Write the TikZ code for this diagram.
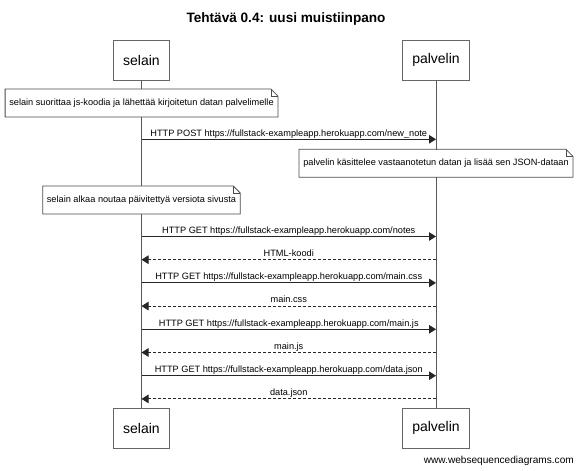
\documentclass[tikz,border=0pt]{standalone}
\usepackage{fontspec}
\setmainfont{Liberation Sans}
\usetikzlibrary{arrows.meta,calc}
\begin{document}
\begin{tikzpicture}[x=1pt,y=-1pt,
  actor/.style={draw=black!60, line width=0.9pt, fill=white, minimum height=40pt, inner xsep=10pt, inner ysep=0pt, font=\fontsize{14}{16}\selectfont},
  notebox/.style={fill=white, minimum height=27.5pt, inner xsep=4pt, inner ysep=0pt, font=\fontsize{9.2}{11}\selectfont, anchor=north},
  noteline/.style={draw=black!70, line width=0.8pt},
  life/.style={draw=black!65, line width=0.9pt},
  msg/.style={draw=black!85, line width=0.9pt, -{Triangle[length=7pt,width=8.5pt]}},
  ret/.style={msg, dash pattern=on 3pt off 2pt},
  lbl/.style={font=\fontsize{9.2}{11}\selectfont, anchor=base, yshift=3.2pt, text=black},
]
\useasboundingbox[fill=white] (0,0) rectangle (579,471);

\node[font=\bfseries\fontsize{13.6}{16}\selectfont, anchor=base] (title) at (286,22.5) {Tehtävä 0.4: uusi muistiinpano};

\node[actor] (selTop) at (141.5,60) {selain};
\node[actor] (palTop) at (436,60) {palvelin};
\node[actor] (selBot) at (141.5,428.3) {selain};
\node[actor] (palBot) at (436,428.3) {palvelin};
\draw[life] (selTop) -- (selBot);
\draw[life] (palTop) -- (palBot);

% notes
\node[notebox] (n1) at (141.5,89) {selain suorittaa js-koodia ja lähettää kirjoitetun datan palvelimelle};
\draw[noteline] (n1.north west) -- ([xshift=-7pt]n1.north east) -- ([yshift=-7pt]n1.north east) -- (n1.south east) -- (n1.south west) -- cycle;
\draw[noteline] ([xshift=-7pt]n1.north east) -- ([xshift=-7pt,yshift=-7pt]n1.north east) -- ([yshift=-7pt]n1.north east);

\node[notebox] (n2) at (436,149.3) {palvelin käsittelee vastaanotetun datan ja lisää sen JSON-dataan};
\draw[noteline] (n2.north west) -- ([xshift=-7pt]n2.north east) -- ([yshift=-7pt]n2.north east) -- (n2.south east) -- (n2.south west) -- cycle;
\draw[noteline] ([xshift=-7pt]n2.north east) -- ([xshift=-7pt,yshift=-7pt]n2.north east) -- ([yshift=-7pt]n2.north east);

\node[notebox] (n3) at (141.5,186) {selain alkaa noutaa päivitettyä versiota sivusta};
\draw[noteline] (n3.north west) -- ([xshift=-7pt]n3.north east) -- ([yshift=-7pt]n3.north east) -- (n3.south east) -- (n3.south west) -- cycle;
\draw[noteline] ([xshift=-7pt]n3.north east) -- ([xshift=-7pt,yshift=-7pt]n3.north east) -- ([yshift=-7pt]n3.north east);

% messages
\draw[msg] (selTop |- 0,139.3) -- node[lbl] {HTTP POST https://fullstack-exampleapp.herokuapp.com/new\_note} (palTop |- 0,139.3);
\draw[msg] (selTop |- 0,236.5) -- node[lbl] {HTTP GET https://fullstack-exampleapp.herokuapp.com/notes} (palTop |- 0,236.5);
\draw[ret] (palTop |- 0,259.7) -- node[lbl] {HTML-koodi} (selTop |- 0,259.7);
\draw[msg] (selTop |- 0,282.9) -- node[lbl] {HTTP GET https://fullstack-exampleapp.herokuapp.com/main.css} (palTop |- 0,282.9);
\draw[ret] (palTop |- 0,306.1) -- node[lbl] {main.css} (selTop |- 0,306.1);
\draw[msg] (selTop |- 0,329.3) -- node[lbl] {HTTP GET https://fullstack-exampleapp.herokuapp.com/main.js} (palTop |- 0,329.3);
\draw[ret] (palTop |- 0,352.5) -- node[lbl] {main.js} (selTop |- 0,352.5);
\draw[msg] (selTop |- 0,375.7) -- node[lbl] {HTTP GET https://fullstack-exampleapp.herokuapp.com/data.json} (palTop |- 0,375.7);
\draw[ret] (palTop |- 0,398.9) -- node[lbl] {data.json} (selTop |- 0,398.9);

\node[anchor=base east, font=\fontsize{10.1}{12}\selectfont, inner sep=0pt] (wm) at (574,463) {www.websequencediagrams.com};
\end{tikzpicture}
\end{document}
